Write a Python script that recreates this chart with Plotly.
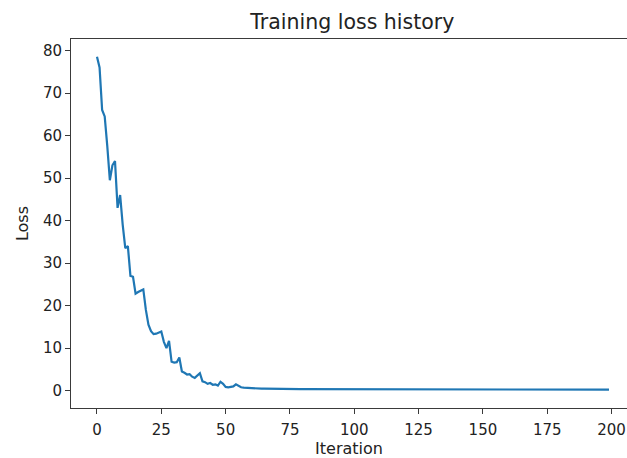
import plotly.graph_objects as go

# Loss values per iteration (0..199)
loss_head = [
    78.5, 76.0, 66.0, 64.5, 57.5, 49.5, 53.0, 54.0, 43.0, 46.0,
    39.0, 33.5, 34.0, 27.0, 26.8, 22.8, 23.2, 23.5, 23.8, 19.0,
    15.5, 14.0, 13.3, 13.4, 13.6, 13.9, 11.5, 10.0, 11.7, 6.8,
    6.6, 6.7, 7.8, 4.5, 4.2, 3.8, 3.9, 3.3, 3.0, 3.6,
    4.1, 2.2, 2.0, 1.6, 1.8, 1.4, 1.5, 1.2, 2.1, 1.6,
    0.9, 0.8, 0.9, 1.0, 1.5, 1.1, 0.8, 0.7, 0.65, 0.6,
]
loss_mid = [
    0.58, 0.55, 0.52, 0.50, 0.48, 0.47, 0.45, 0.44, 0.43, 0.42,
    0.41, 0.40, 0.39, 0.39, 0.38, 0.37, 0.37, 0.36, 0.36, 0.35,
    0.35, 0.35, 0.34, 0.34, 0.34, 0.33, 0.33, 0.33, 0.33, 0.32,
    0.32, 0.32, 0.32, 0.31, 0.31, 0.31, 0.31, 0.31, 0.30, 0.30,
]
loss_tail = [
    0.30, 0.30, 0.30, 0.30, 0.30, 0.29, 0.30, 0.29, 0.29, 0.29,
    0.29, 0.29, 0.29, 0.29, 0.29, 0.29, 0.28, 0.29, 0.28, 0.28,
    0.28, 0.28, 0.28, 0.28, 0.28, 0.28, 0.28, 0.28, 0.28, 0.28,
    0.28, 0.28, 0.27, 0.28, 0.27, 0.27, 0.27, 0.27, 0.27, 0.27,
    0.27, 0.27, 0.27, 0.27, 0.27, 0.27, 0.27, 0.27, 0.27, 0.27,
    0.27, 0.26, 0.27, 0.26, 0.26, 0.26, 0.26, 0.26, 0.26, 0.26,
    0.26, 0.26, 0.26, 0.26, 0.26, 0.26, 0.26, 0.26, 0.26, 0.26,
    0.26, 0.26, 0.26, 0.26, 0.25, 0.26, 0.25, 0.25, 0.25, 0.25,
    0.25, 0.25, 0.25, 0.25, 0.25, 0.25, 0.25, 0.25, 0.25, 0.25,
    0.25, 0.25, 0.25, 0.25, 0.25, 0.25, 0.25, 0.25, 0.25, 0.25,
]
loss = loss_head + loss_mid + loss_tail
iterations = list(range(len(loss)))

x_ticks = [0, 25, 50, 75, 100, 125, 150, 175, 200]
y_ticks = [0, 10, 20, 30, 40, 50, 60, 70, 80]

FONT = "DejaVu Sans"
TXT = "#222222"
AX = "#3a3a3a"

fig = go.Figure()
fig.add_trace(go.Scatter(
    x=iterations, y=loss, mode="lines",
    line=dict(color="#1f77b4", width=2.2),
    showlegend=False, hoverinfo="skip",
))

fig.update_layout(
    width=627, height=458,
    margin=dict(l=71, r=0, t=39, b=50),
    paper_bgcolor="white", plot_bgcolor="white",
    font=dict(family=FONT, color=TXT, size=15),
    title=dict(text="Training loss history", x=0.506, xref="paper", xanchor="center",
               y=1, yref="paper", yanchor="bottom", pad=dict(b=10),
               font=dict(family=FONT, size=20.5, color=TXT)),
    xaxis=dict(
        range=[-10.1, 206], tickvals=x_ticks, ticktext=[str(v) for v in x_ticks],
        showgrid=False, zeroline=False, showline=True, mirror=True,
        linecolor=AX, linewidth=1, ticks="outside", ticklen=5, tickwidth=1, tickcolor=AX,
        ticklabelstandoff=3,
        tickfont=dict(family=FONT, size=15, color=TXT),
        title=dict(text="Iteration", font=dict(family=FONT, size=16, color=TXT), standoff=7),
    ),
    yaxis=dict(
        range=[-4.07, 82.7], tickvals=y_ticks, ticktext=[str(v) for v in y_ticks],
        showgrid=False, zeroline=False, showline=True, mirror=False,
        linecolor=AX, linewidth=1, ticks="outside", ticklen=5, tickwidth=1, tickcolor=AX,
        tickfont=dict(family=FONT, size=15, color=TXT),
        title=dict(text="Loss", font=dict(family=FONT, size=16, color=TXT), standoff=10),
    ),
)

fig.write_html("out.html", config={"displayModeBar": False},
               post_script="document.body.style.margin='0';document.body.style.overflow='hidden';")
